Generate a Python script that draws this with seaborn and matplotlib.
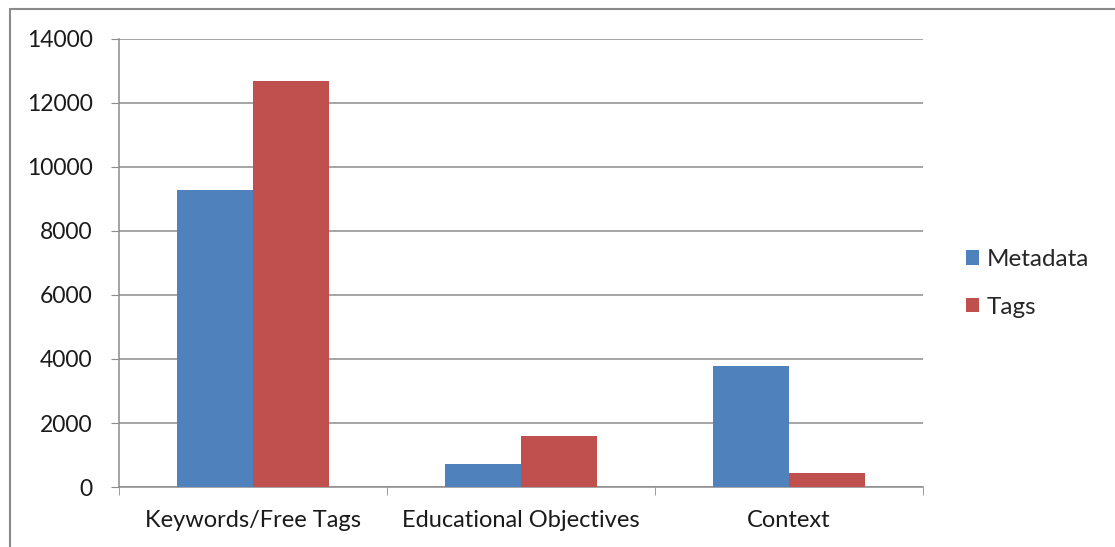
import matplotlib
matplotlib.use('Agg')
import matplotlib.pyplot as plt
from matplotlib.lines import Line2D
import pandas as pd
import seaborn as sns

# Values
categories = ['Keywords/Free Tags', 'Educational Objectives', 'Context']
metadata_values = [9280, 710, 3790]
tags_values = [12690, 1590, 430]
series_names = ['Metadata', 'Tags']

df = pd.DataFrame({
    'category': categories * 2,
    'series': [series_names[0]] * 3 + [series_names[1]] * 3,
    'value': metadata_values + tags_values,
})

sns.set_style('white')
plt.rcParams['font.family'] = ['Lato', 'DejaVu Sans']

fig = plt.figure(figsize=(11.15, 5.47), dpi=100)
ax = fig.add_axes([119 / 1115, 1 - 487 / 547, (923 - 119) / 1115, (487 - 39) / 547])

sns.barplot(data=df, x='category', y='value', hue='series', order=categories,
            hue_order=series_names, palette=['#4F81BD', '#C0504D'],
            width=0.57, saturation=1, linewidth=0, ax=ax, zorder=3)

ax.set_ylim(0, 14000)
ax.set_xlim(-0.5, 2.5)
ax.set_yticks(range(0, 14001, 2000))
ax.grid(axis='y', color='#8c8c8c', linewidth=1.1, zorder=0)
ax.set_axisbelow(True)
ax.set_xlabel('')
ax.set_ylabel('')

for s in ['top', 'right']:
    ax.spines[s].set_visible(False)
for s in ['left', 'bottom']:
    ax.spines[s].set_color('#8c8c8c')
    ax.spines[s].set_linewidth(1.1)

ax.tick_params(axis='y', left=True, length=6, color='#8c8c8c', labelsize=16.5, pad=13, labelcolor='#1a1a1a')
ax.tick_params(axis='x', bottom=False, labelsize=17, pad=13, labelcolor='#1a1a1a')
ax.set_xticks([-0.5, 0.5, 1.5, 2.5], minor=True)
ax.tick_params(axis='x', which='minor', bottom=True, length=6, color='#8c8c8c')

leg = ax.legend(loc='center left', bbox_to_anchor=(1.026, 0.455), frameon=False,
                fontsize=17.5, handlelength=0.55, handleheight=0.55, handletextpad=0.3,
                labelspacing=1.1)

# outer chart border (left and top edges visible)
fig.add_artist(Line2D([9.5 / 1115, 9.5 / 1115], [0, 1 - 9 / 547], color='#8a8a8a', linewidth=1.5))
fig.add_artist(Line2D([9.5 / 1115, 1], [1 - 9 / 547, 1 - 9 / 547], color='#8a8a8a', linewidth=1.5))

fig.savefig('out.png', dpi=100)
